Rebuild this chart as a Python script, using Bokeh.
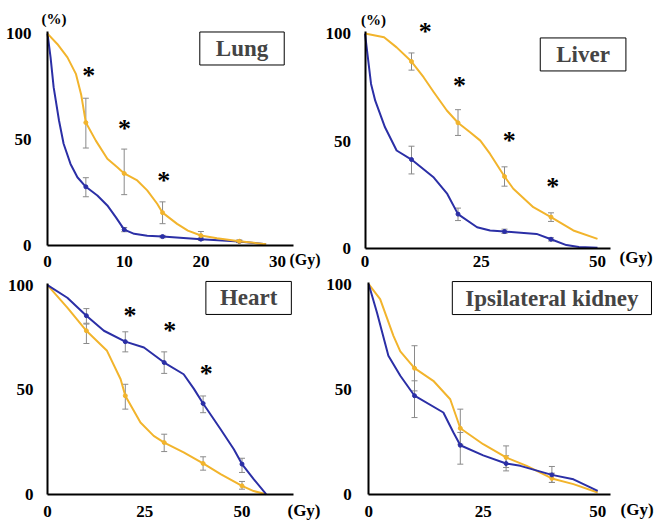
from bokeh.plotting import figure
from bokeh.models import Label, Whisker, TeeHead, ColumnDataSource, FixedTicker, Range1d
from bokeh.layouts import column, row
from bokeh.embed import file_html
from bokeh.resources import INLINE

BLUE = "#2b2fa6"
ORANGE = "#f2b42c"
ERR = "#8a8a8a"
FONT = "Liberation Serif"

# ---------------- Lung ----------------
LUNG_BLUE_X = [0, 0.4, 0.8, 1.5, 2.1, 3.0, 3.9, 5, 6.5, 7.8, 8.9, 10, 11.3, 13, 15, 20, 25, 28.5]
LUNG_BLUE_Y = [100, 88.8, 74.7, 59, 48, 38.5, 32.2, 27.7, 23.6, 18.9, 13.4, 7.5, 5.5, 4.6, 4.2, 3.0, 1.9, 0.6]
LUNG_ORANGE_X = [0, 1.3, 2.6, 3.7, 4.4, 5, 6.3, 7.8, 9.1, 10, 11.7, 13, 14.3, 15, 16.9, 18.3, 20, 22.1, 25, 28.5]
LUNG_ORANGE_Y = [100, 95, 88.8, 81, 71, 58, 49.5, 40.9, 36.9, 34, 30.7, 26, 19.7, 15.5, 10.2, 7, 4.7, 3.4, 2.0, 0.6]
LUNG_MX = [5, 10, 15, 20, 25]
LUNG_BLUE_M = [27.7, 7.5, 4.2, 3.0, 1.9]
LUNG_BLUE_LO = [23, 6.5, 3.6, 2.4, 1.4]
LUNG_BLUE_HI = [32, 8.5, 4.8, 3.6, 2.4]
LUNG_ORANGE_M = [58, 34, 15.5, 4.7, 2.0]
LUNG_ORANGE_LO = [46, 24, 10.3, 3.0, 1.4]
LUNG_ORANGE_HI = [69.5, 45.5, 20.6, 6.6, 2.6]
LUNG_XTICKS = [0, 10, 20, 30]

# ---------------- Liver ----------------
LIVER_BLUE_X = [0, 1.3, 2.2, 4.3, 6.8, 10, 14.8, 17.7, 20, 24.1, 26.9, 30, 36.9, 40, 43.3, 46, 50]
LIVER_BLUE_Y = [100, 76.6, 68.8, 56.4, 45.6, 41.4, 33, 25.4, 16, 9.9, 8.4, 7.9, 6.8, 4.3, 1.6, 0.7, 0.4]
LIVER_ORANGE_X = [0, 4.1, 6.8, 10, 12.6, 14.8, 17.6, 20, 22.6, 24.8, 26.9, 30, 31.9, 36.2, 40, 44.8, 50]
LIVER_ORANGE_Y = [100, 98.3, 93.6, 87, 79.7, 72.7, 64.2, 58.5, 54.1, 50.2, 44, 33.5, 27.8, 19.2, 14.6, 8.4, 4.5]
LIVER_MX = [10, 20, 30, 40]
LIVER_BLUE_M = [41.4, 16, 7.9, 4.3]
LIVER_BLUE_LO = [34.7, 13, 7.0, 3.5]
LIVER_BLUE_HI = [47.6, 18.8, 9.0, 5.0]
LIVER_ORANGE_M = [87, 58.5, 33.5, 14.6]
LIVER_ORANGE_LO = [83, 52.6, 29, 12.6]
LIVER_ORANGE_HI = [91, 64.6, 38, 16.6]

# ---------------- Heart ----------------
HEART_BLUE_X = [0, 5.1, 10, 14.5, 20, 24.8, 30, 35, 37.6, 40, 44.5, 47.9, 50, 53, 56.2]
HEART_BLUE_Y = [100, 94, 85.4, 78.2, 73, 70.2, 63, 57.4, 50.5, 43.4, 31.1, 21.5, 14.4, 7.2, 0]
HEART_ORANGE_X = [0, 5.1, 10, 15.3, 18.8, 20, 23.9, 27.3, 30, 35, 40, 44.5, 50, 53, 56.2]
HEART_ORANGE_Y = [100, 89.3, 78.2, 68.6, 55, 47.1, 34.3, 27.9, 24.7, 20, 14.7, 9.6, 4.0, 1.5, 0]
HEART_MX = [10, 20, 30, 40, 50]
HEART_BLUE_M = [85.4, 73, 63, 43.4, 14.4]
HEART_BLUE_LO = [81.8, 68.1, 57.8, 39, 10.4]
HEART_BLUE_HI = [88.8, 77.7, 68.1, 47, 17.2]
HEART_ORANGE_M = [78.2, 47.1, 24.7, 14.7, 4.0]
HEART_ORANGE_LO = [72.1, 40.7, 20.4, 11.5, 2.4]
HEART_ORANGE_HI = [81.4, 52.6, 28.7, 17.9, 6.1]

# ---------------- Ipsilateral kidney ----------------
KID_BLUE_X = [0, 1.8, 4.3, 6.9, 10, 16.3, 18.5, 20, 25, 30, 33.1, 40, 44.7, 50]
KID_BLUE_Y = [100, 86.5, 65.9, 56.4, 46.9, 38.9, 29.4, 23.3, 18.5, 14.6, 13.5, 9.2, 7.1, 1.6]
KID_ORANGE_X = [0, 2.5, 5.4, 6.9, 10, 14.1, 17.8, 20, 25, 30, 34.5, 40, 44.7, 50]
KID_ORANGE_Y = [100, 92.9, 75.4, 68, 60, 54, 45.2, 31.4, 23.8, 17.5, 13.5, 7.5, 4.8, 0.8]
KID_MX = [10, 20, 30, 40]
KID_BLUE_M = [46.9, 23.3, 14.6, 9.2]
KID_BLUE_LO = [36.5, 14.3, 11.1, 5.6]
KID_BLUE_HI = [54, 29.4, 18.3, 13.2]
KID_ORANGE_M = [60, 31.4, 17.5, 7.5]
KID_ORANGE_LO = [49.2, 23.8, 12.7, 5.6]
KID_ORANGE_HI = [70.7, 40.5, 23, 10]

DOSE_TICKS = [0, 25, 50]
Y_TICKS = [0, 50, 100]

SPLIT = 321  # page x where the left and right columns meet


def make_panel(left, top, width, height, ox, oy, sx, sy, xaxis_end, xticks, ystand, xstand):
    """Panel whose frame fills the figure; axes sit at data zero."""
    x_range = Range1d((left - ox) / sx, (left + width - ox) / sx)
    y_range = Range1d((oy - (top + height)) / sy, (oy - top) / sy)
    p = figure(width=width, height=height, x_range=x_range, y_range=y_range,
               output_backend="svg", toolbar_location=None, min_border=0)
    p.outline_line_color = None
    p.grid.visible = False
    p.xaxis.ticker = FixedTicker(ticks=xticks)
    p.yaxis.ticker = FixedTicker(ticks=Y_TICKS)
    p.xaxis.bounds = (0, xaxis_end)
    p.yaxis.bounds = (0, 101)
    for ax in (p.xaxis[0], p.yaxis[0]):
        ax.fixed_location = 0
        ax.axis_line_width = 2
        ax.axis_line_color = "black"
        ax.major_tick_line_color = None
        ax.minor_tick_line_color = None
        ax.major_label_text_font = FONT
        ax.major_label_text_font_style = "bold"
        ax.major_label_text_font_size = "17px"
        ax.major_label_text_color = "black"
    p.yaxis[0].major_label_standoff = ystand
    p.xaxis[0].major_label_standoff = xstand
    return p


def add_series(p, cx, cy, mx, m, lo, hi, color):
    src = ColumnDataSource(dict(x=mx, y=m, lo=lo, hi=hi))
    p.add_layout(Whisker(source=src, base="x", upper="hi", lower="lo", dimension="height",
                         line_color=ERR, line_width=1,
                         upper_head=TeeHead(size=6, line_color=ERR, line_width=1),
                         lower_head=TeeHead(size=6, line_color=ERR, line_width=1)))
    p.line(cx, cy, line_color=color, line_width=2, line_join="round")
    p.scatter("x", "y", source=src, size=4, color=color)


def add_title(p, x, y, text, padh):
    p.add_layout(Label(x=x, y=y, text=text, text_font=FONT, text_font_style="bold",
                       text_font_size="23px", text_align="center", text_baseline="middle",
                       border_line_color="black", border_line_width=1,
                       background_fill_color="white",
                       padding=dict(left=padh, right=padh, top=4, bottom=4)))


def add_text(p, x, y, text, size):
    p.add_layout(Label(x=x, y=y, text=text, text_font=FONT, text_font_style="bold",
                       text_font_size=size, text_align="center", text_baseline="middle",
                       text_color="black"))


# Panel 1: Lung
p1 = make_panel(0, 0, SPLIT, 276, 47, 245, 7.67, 2.119, 32.07, LUNG_XTICKS, 10, 4)
add_series(p1, LUNG_BLUE_X, LUNG_BLUE_Y, LUNG_MX, LUNG_BLUE_M, LUNG_BLUE_LO, LUNG_BLUE_HI, BLUE)
add_series(p1, LUNG_ORANGE_X, LUNG_ORANGE_Y, LUNG_MX, LUNG_ORANGE_M, LUNG_ORANGE_LO, LUNG_ORANGE_HI, ORANGE)
add_title(p1, 25.36, 92.97, "Lung", 16)
for ax_, ay_ in [(5.38, 80.3), (10.04, 55.2), (15.16, 30.8)]:
    add_text(p1, ax_, ay_, "*", "26px")
add_text(p1, 0.85, 106.9, "(%)", "15px")
add_text(p1, 33.57, -6.6, "(Gy)", "16px")

# Panel 2: Liver
p2 = make_panel(SPLIT, 0, 666 - SPLIT, 276, 364.5, 248, 4.65, 2.149, 52.9, DOSE_TICKS, 8, 1)
add_series(p2, LIVER_BLUE_X, LIVER_BLUE_Y, LIVER_MX, LIVER_BLUE_M, LIVER_BLUE_LO, LIVER_BLUE_HI, BLUE)
add_series(p2, LIVER_ORANGE_X, LIVER_ORANGE_Y, LIVER_MX, LIVER_ORANGE_M, LIVER_ORANGE_LO, LIVER_ORANGE_HI, ORANGE)
add_title(p2, 46.9, 90.3, "Liver", 16)
for ax_, ay_ in [(12.95, 100.85), (20.3, 75.95), (31.0, 50.35), (40.4, 28.75)]:
    add_text(p2, ax_, ay_, "*", "26px")
add_text(p2, 1.83, 106.1, "(%)", "15px")
add_text(p2, 58.3, -4.4, "(Gy)", "17px")

# Panel 3: Heart
p3 = make_panel(0, 276, SPLIT, 249, 47, 493.7, 3.89, 2.09, 63.2, DOSE_TICKS, 8, 6)
add_series(p3, HEART_ORANGE_X, HEART_ORANGE_Y, HEART_MX, HEART_ORANGE_M, HEART_ORANGE_LO, HEART_ORANGE_HI, ORANGE)
add_series(p3, HEART_BLUE_X, HEART_BLUE_Y, HEART_MX, HEART_BLUE_M, HEART_BLUE_LO, HEART_BLUE_HI, BLUE)
add_title(p3, 51.7, 93.9, "Heart", 14)
for ax_, ay_ in [(21.2, 85.5), (31.4, 78.3), (40.8, 57.6)]:
    add_text(p3, ax_, ay_, "*", "26px")
add_text(p3, 65.94, -7.8, "(Gy)", "17px")

# Panel 4: Ipsilateral kidney
p4 = make_panel(SPLIT, 276, 666 - SPLIT, 249, 368.2, 493.7, 4.58, 2.10, 52.8, DOSE_TICKS, 11, 6)
add_series(p4, KID_ORANGE_X, KID_ORANGE_Y, KID_MX, KID_ORANGE_M, KID_ORANGE_LO, KID_ORANGE_HI, ORANGE)
add_series(p4, KID_BLUE_X, KID_BLUE_Y, KID_MX, KID_BLUE_M, KID_BLUE_LO, KID_BLUE_HI, BLUE)
add_title(p4, 40.0, 93.4, "Ipsilateral kidney", 13)
add_text(p4, 58.6, -7.5, "(Gy)", "17px")

layout = column(row(p1, p2), row(p3, p4))
open("out.html", "w").write(file_html(layout, INLINE))
